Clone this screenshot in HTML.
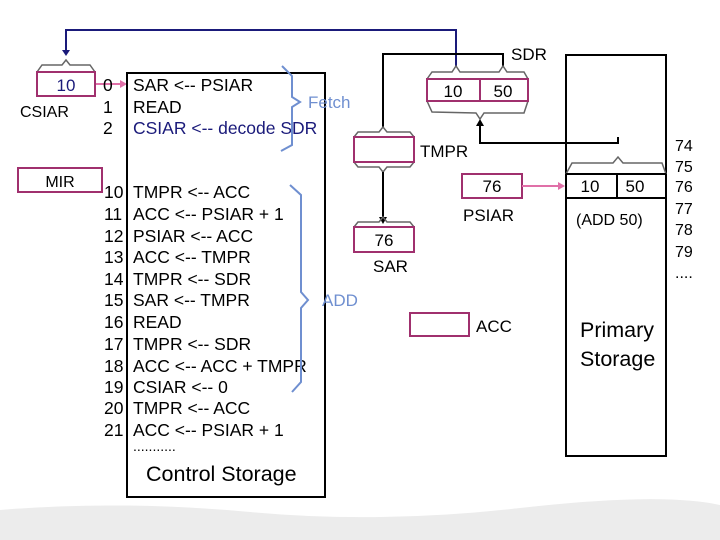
<!DOCTYPE html>
<html><head><style>
body{margin:0;background:#fff}
svg{display:block}
text{font-family:"Liberation Sans",Arial,sans-serif}
</style></head><body>
<svg width="720" height="540" viewBox="0 0 720 540" xmlns="http://www.w3.org/2000/svg">
<rect width="720" height="540" fill="#fff"/>
<path d="M0 510 Q120 500 250 512 T520 508 T720 505 L720 540 L0 540Z" fill="#ececec"/>
<polyline points="66,53 66,30 456,30 456,66" fill="none" stroke="#1a1a7a" stroke-width="2"/>
<polygon points="62,50 70,50 66,56" fill="#1a1a7a"/>
<path d="M37 72 L42 65 L62 65 L66 60 L70 65 L90 65 L95 72" fill="none" stroke="#666" stroke-width="1.5"/>
<rect x="37" y="72" width="58" height="24" fill="#fff" stroke="#a0306e" stroke-width="2"/>
<text x="66" y="91" font-size="17" text-anchor="middle" fill="#1a1a7a">10</text>
<text x="20" y="117" font-size="16">CSIAR</text>
<line x1="96" y1="84" x2="122" y2="84" stroke="#e070a8" stroke-width="2"/>
<polygon points="120,80 127,84 120,88" fill="#e070a8"/>
<rect x="18" y="168" width="84" height="24" fill="#fff" stroke="#a0306e" stroke-width="2"/>
<text x="60" y="187" font-size="16" text-anchor="middle">MIR</text>
<rect x="127" y="73" width="198" height="424" fill="none" stroke="#000" stroke-width="2"/>
<g font-size="17.5">
<text x="103" y="91">0</text><text x="133" y="91">SAR &lt;-- PSIAR</text>
<text x="103" y="113">1</text><text x="133" y="113">READ</text>
<text x="103" y="134">2</text><text x="133" y="134" fill="#1a1a7a">CSIAR &lt;-- decode SDR</text>
<text x="104" y="198">10</text><text x="133" y="198">TMPR &lt;-- ACC</text>
<text x="104" y="220">11</text><text x="133" y="220">ACC &lt;-- PSIAR + 1</text>
<text x="104" y="242">12</text><text x="133" y="242">PSIAR &lt;-- ACC</text>
<text x="104" y="263">13</text><text x="133" y="263">ACC &lt;-- TMPR</text>
<text x="104" y="285">14</text><text x="133" y="285">TMPR &lt;-- SDR</text>
<text x="104" y="306">15</text><text x="133" y="306">SAR &lt;-- TMPR</text>
<text x="104" y="328">16</text><text x="133" y="328">READ</text>
<text x="104" y="350">17</text><text x="133" y="350">TMPR &lt;-- SDR</text>
<text x="104" y="372">18</text><text x="133" y="372">ACC &lt;-- ACC + TMPR</text>
<text x="104" y="393">19</text><text x="133" y="393">CSIAR &lt;-- 0</text>
<text x="104" y="414">20</text><text x="133" y="414">TMPR &lt;-- ACC</text>
<text x="104" y="436">21</text><text x="133" y="436">ACC &lt;-- PSIAR + 1</text>
<text x="133" y="451" font-size="14">...........</text>
</g>
<text x="146" y="481" font-size="21.5">Control Storage</text>
<path d="M282 66 L292 76 L292 97 L300 102 L292 107 L292 145 L281 151" fill="none" stroke="#6f8fd0" stroke-width="2"/>
<text x="308" y="108" font-size="17" fill="#6f8fd0">Fetch</text>
<path d="M290 185 L301 195 L301 292 L308 300 L301 308 L301 382 L292 392" fill="none" stroke="#6f8fd0" stroke-width="2"/>
<text x="322" y="306" font-size="17" fill="#6f8fd0">ADD</text>
<polyline points="503,66 503,54 383,54 383,127" fill="none" stroke="#000" stroke-width="2"/>
<path d="M427 79 L432 72 L452 72 L456 66 L460 72 L476 72 L480 72 L499 72 L503 66 L507 72 L524 72 L528 79" fill="none" stroke="#666" stroke-width="1.5"/>
<path d="M427 101 L432 112 L476 113 L480 119 L484 113 L524 113 L528 101" fill="none" stroke="#666" stroke-width="1.5"/>
<rect x="427" y="79" width="101" height="22" fill="#fff" stroke="#a0306e" stroke-width="2"/>
<line x1="480" y1="79" x2="480" y2="101" stroke="#a0306e" stroke-width="2"/>
<text x="453" y="97" font-size="17" text-anchor="middle">10</text>
<text x="503" y="97" font-size="17" text-anchor="middle">50</text>
<text x="511" y="60" font-size="17">SDR</text>
<polyline points="618,137 618,143 480,143 480,124" fill="none" stroke="#000" stroke-width="2"/>
<polygon points="476,126 484,126 480,119" fill="#000"/>
<path d="M354 137 L358 132 L379 132 L383 127 L387 132 L410 132 L414 137" fill="none" stroke="#666" stroke-width="1.5"/>
<path d="M354 162 L358 167 L379 167 L383 172 L387 167 L410 167 L414 162" fill="none" stroke="#666" stroke-width="1.5"/>
<rect x="354" y="137" width="60" height="25" fill="#fff" stroke="#a0306e" stroke-width="2"/>
<text x="420" y="157" font-size="17">TMPR</text>
<line x1="383" y1="172" x2="383" y2="219" stroke="#000" stroke-width="2"/>
<polygon points="379,217 387,217 383,224" fill="#000"/>
<path d="M354 227 L358 222 L379 222 L383 217 L387 222 L410 222 L414 227" fill="none" stroke="#666" stroke-width="1.5"/>
<rect x="354" y="227" width="60" height="25" fill="#fff" stroke="#a0306e" stroke-width="2"/>
<text x="384" y="246" font-size="17" text-anchor="middle">76</text>
<text x="373" y="272" font-size="17">SAR</text>
<rect x="462" y="174" width="60" height="24" fill="#fff" stroke="#a0306e" stroke-width="2"/>
<text x="492" y="192" font-size="17" text-anchor="middle">76</text>
<text x="463" y="221" font-size="17">PSIAR</text>
<line x1="522" y1="186" x2="560" y2="186" stroke="#e070a8" stroke-width="2"/>
<polygon points="558,182 565,186 558,190" fill="#e070a8"/>
<rect x="410" y="313" width="59" height="23" fill="#fff" stroke="#a0306e" stroke-width="2"/>
<text x="476" y="332" font-size="17">ACC</text>
<rect x="566" y="55" width="100" height="401" fill="none" stroke="#000" stroke-width="2"/>
<path d="M566 174 L572 163 L613 163 L618 157 L623 163 L662 163 L666 174" fill="none" stroke="#666" stroke-width="1.5"/>
<line x1="566" y1="174" x2="666" y2="174" stroke="#000" stroke-width="2"/>
<line x1="566" y1="198" x2="666" y2="198" stroke="#000" stroke-width="2"/>
<line x1="617" y1="174" x2="617" y2="198" stroke="#000" stroke-width="2"/>
<text x="590" y="192" font-size="17" text-anchor="middle">10</text>
<text x="635" y="192" font-size="17" text-anchor="middle">50</text>
<text x="576" y="225" font-size="16">(ADD 50)</text>
<text x="580" y="337" font-size="21.5">Primary</text>
<text x="580" y="366" font-size="21.5">Storage</text>
<g font-size="16">
<text x="675" y="151">74</text><text x="675" y="172">75</text><text x="675" y="192">76</text>
<text x="675" y="214">77</text><text x="675" y="235">78</text><text x="675" y="257">79</text>
<text x="675" y="278">....</text>
</g>
</svg>
</body></html>
